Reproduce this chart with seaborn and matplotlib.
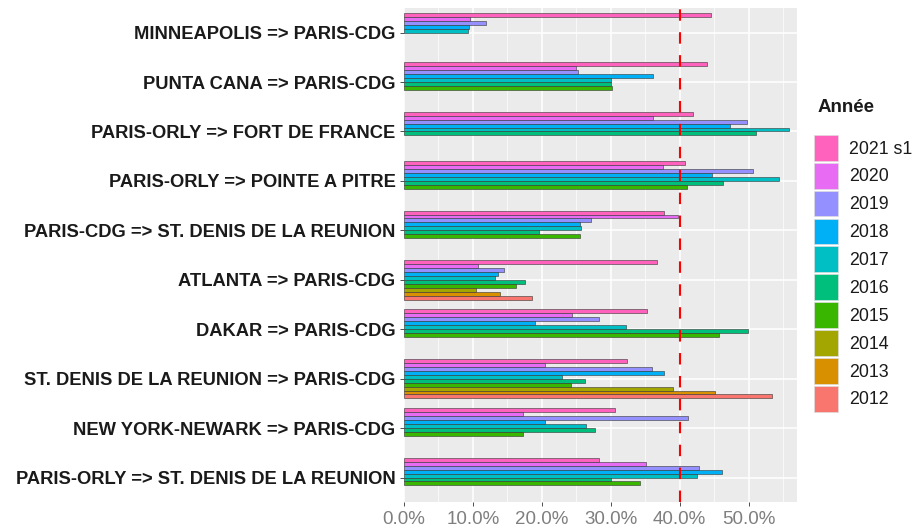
import numpy as np
import pandas as pd
import matplotlib
matplotlib.use('Agg')
import matplotlib.pyplot as plt
import seaborn as sns
from matplotlib.patches import Patch
from matplotlib.ticker import MultipleLocator, FuncFormatter

# Routes (top to bottom) and share per year, in %
routes = [
    'MINNEAPOLIS => PARIS-CDG',
    'PUNTA CANA => PARIS-CDG',
    'PARIS-ORLY => FORT DE FRANCE',
    'PARIS-ORLY => POINTE A PITRE',
    'PARIS-CDG => ST. DENIS DE LA REUNION',
    'ATLANTA => PARIS-CDG',
    'DAKAR => PARIS-CDG',
    'ST. DENIS DE LA REUNION => PARIS-CDG',
    'NEW YORK-NEWARK => PARIS-CDG',
    'PARIS-ORLY => ST. DENIS DE LA REUNION',
]
years = ['2021 s1', '2020', '2019', '2018', '2017', '2016', '2015', '2014', '2013', '2012']

nan = np.nan
v2021 = [44.5, 43.9, 41.9, 40.8, 37.7, 36.7, 35.2, 32.4, 30.6, 28.3]
v2020 = [9.6, 25.0, 36.1, 37.6, 39.8, 10.7, 24.4, 20.5, 17.3, 35.1]
v2019 = [11.9, 25.3, 49.7, 50.6, 27.2, 14.5, 28.3, 36.0, 41.2, 42.8]
v2018 = [9.4, 36.2, 47.3, 44.7, 25.5, 13.7, 19.0, 37.7, 20.5, 46.1]
v2017 = [9.3, 30.0, 55.8, 54.4, 25.7, 13.2, 32.2, 23.0, 26.4, 42.5]
v2016 = [nan, 30.0, 51.1, 46.3, 19.6, 17.5, 49.9, 26.2, 27.7, 30.0]
v2015 = [nan, 30.2, nan, 41.1, 25.5, 16.2, 45.7, 24.2, 17.3, 34.3]
v2014 = [nan, nan, nan, nan, nan, 10.4, nan, 39.0, nan, nan]
v2013 = [nan, nan, nan, nan, nan, 14.0, nan, 45.1, nan, nan]
v2012 = [nan, nan, nan, nan, nan, 18.6, nan, 53.4, nan, nan]

# ggplot-like hue colours, 2021 s1 -> 2012
colors = ['#FF62BC', '#E76BF3', '#9590FF', '#00B0F6', '#00BFC4',
          '#00BF7D', '#39B600', '#A3A500', '#D89000', '#F8766D']

series = [v2021, v2020, v2019, v2018, v2017, v2016, v2015, v2014, v2013, v2012]
rows = []
for yr, vals in zip(years, series):
    for r, v in zip(routes, vals):
        if not np.isnan(v):
            rows.append({'Route': r, 'Année': yr, 'Part': v})
df = pd.DataFrame(rows)

fig, ax = plt.subplots(figsize=(9.18, 5.27), dpi=100)
fig.subplots_adjust(left=0.440, right=0.868, top=0.985, bottom=0.047)
ax.set_facecolor('#EBEBEB')

sns.barplot(data=df, y='Route', x='Part', hue='Année', order=routes,
            hue_order=years, palette=colors, orient='h', errorbar=None,
            saturation=1, width=0.8, edgecolor='#333333', linewidth=0.4,
            ax=ax, zorder=3)

ax.axvline(40, color='#FF0000', lw=1.5, dashes=(5.5, 5.5), zorder=4)

ax.set_xlim(0, 57)
ax.set_ylim(9.5, -0.5)
ax.xaxis.set_major_locator(MultipleLocator(10))
ax.xaxis.set_minor_locator(MultipleLocator(5))
ax.xaxis.set_major_formatter(FuncFormatter(lambda x, p: f'{x:.1f}%'))
ax.grid(True, which='major', color='white', lw=1.1, zorder=0)
ax.grid(True, which='minor', axis='x', color='white', lw=0.5, zorder=0)
ax.set_axisbelow(True)
for s in ax.spines.values():
    s.set_visible(False)

ax.set_xlabel('')
ax.set_ylabel('')
ax.tick_params(axis='x', which='major', labelsize=13.5, labelcolor='#7F7F7F',
               color='#333333', length=3, width=0.6, pad=3)
ax.tick_params(axis='x', which='minor', length=0)
ax.tick_params(axis='y', labelsize=13.2, labelcolor='#1A1A1A',
               color='#333333', length=3, width=0.6, pad=3)
for lab in ax.get_yticklabels():
    lab.set_fontfamily('Liberation Sans')
    lab.set_fontweight('bold')
for lab in ax.get_xticklabels():
    lab.set_fontfamily('Liberation Sans')

ax.get_legend().remove()
fig.text(818 / 918, 1 - 108 / 527, 'Année', ha='left', va='center',
         family='Liberation Sans', fontsize=13.5, fontweight='bold',
         color='#1A1A1A')
handles = [Patch(facecolor=c, edgecolor='#DDDDDD', linewidth=0.5) for c in colors]
leg = fig.legend(handles, years, loc='upper left',
                 bbox_to_anchor=(0.887, 1 - 135 / 527), frameon=False,
                 prop={'family': 'Liberation Sans', 'size': 12.8},
                 handlelength=1.35, handleheight=1.85, labelspacing=0.12,
                 handletextpad=0.6, borderaxespad=0, borderpad=0)
for t in leg.get_texts():
    t.set_color('#1A1A1A')

fig.savefig('out.png', dpi=100)
